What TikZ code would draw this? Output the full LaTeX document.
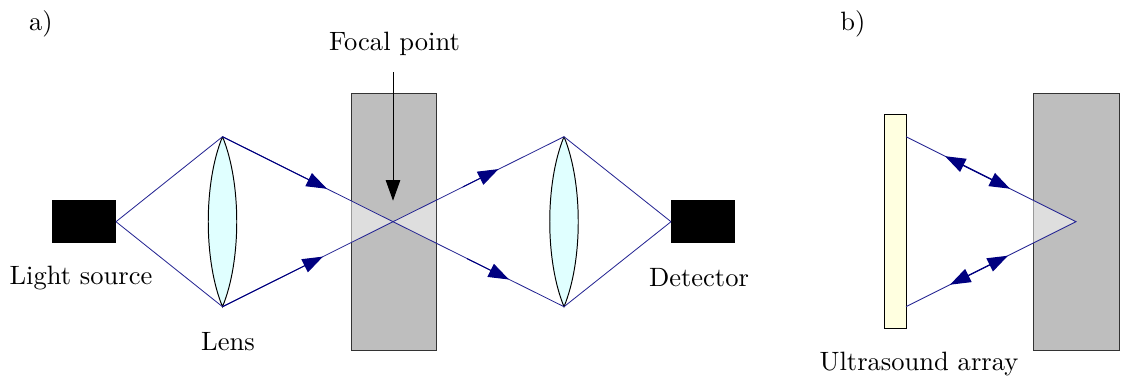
\documentclass[tikz,border=0pt]{standalone}
\usetikzlibrary{arrows.meta}
\definecolor{blockgray}{HTML}{BEBEBE}
\definecolor{lenscyan}{HTML}{E0FFFF}
\definecolor{arrayyellow}{HTML}{FFFFE0}
\definecolor{raynavy}{HTML}{000080}
\tikzset{
  every node/.style={font=\fontsize{9.55}{11}\selectfont},
  block/.style={draw=black!80,fill=blockgray,line width=0.35pt},
  lensbody/.style={draw=black,fill=lenscyan,line width=0.35pt},
  focus/.style={fill=white,fill opacity=0.5},
  ray/.style={draw=raynavy!85,line width=0.3pt},
  rayhead/.style={draw=raynavy,fill=raynavy,line width=0.35pt,-{Triangle[length=7.4pt,width=5.2pt]}},
  raybothhead/.style={draw=raynavy,fill=raynavy,line width=0.45pt,{Triangle[length=7.4pt,width=5.2pt]}-{Triangle[length=7.4pt,width=5.2pt]}},
}
\begin{document}
\begin{tikzpicture}[x=0.36pt,y=-0.36pt]
  \useasboundingbox (0,0) rectangle (1121,379);
  % a) transmission
  \draw[block] (351,93) rectangle (436,350);
  \fill[focus] (351,200.8)--(393,221.7)--(351,242.6)--cycle;
  \fill[focus] (436,200.8)--(393,221.7)--(436,242.6)--cycle;
  \fill[black] (52,200) rectangle (116,243);
  \fill[black] (671,200) rectangle (735,243);
  \coordinate (source) at (116,221.7);
  \coordinate (detector) at (671,221.7);
  \coordinate (focalA) at (393,221.7);
  \coordinate (lensAtop) at (222.5,136.7);
  \coordinate (lensAbot) at (222.5,306.7);
  \coordinate (lensBtop) at (564,136.7);
  \coordinate (lensBbot) at (564,306.7);
  \coordinate (tipA) at (327,188.8);
  \coordinate (tipB) at (323,256.6);
  \coordinate (startC) at (463,186.8);
  \coordinate (tipC) at (498.5,169.1);
  \coordinate (startD) at (467,258.6);
  \coordinate (tipD) at (509,279.5);
  \draw[lensbody] (lensAtop) .. controls +(-19,46) and +(-19,-46) .. (lensAbot)
    .. controls +(19,-46) and +(19,46) .. (lensAtop);
  \draw[lensbody] (lensBtop) .. controls +(-19,46) and +(-19,-46) .. (lensBbot)
    .. controls +(19,-46) and +(19,46) .. (lensBtop);
  \draw[ray] (source)--(lensAtop)--(focalA)--(lensBbot)--(detector);
  \draw[ray] (source)--(lensAbot)--(focalA)--(lensBtop)--(detector);
  \draw[rayhead] (lensAtop)--(tipA);
  \draw[rayhead] (lensAbot)--(tipB);
  \draw[rayhead] (startC)--(tipC);
  \draw[rayhead] (startD)--(tipD);
  \coordinate (focalstart) at (393,72);
  \coordinate (focalend) at (393,200.7);
  \draw[line width=0.35pt,-{Triangle[length=7.4pt,width=5.2pt]}] (focalstart)--(focalend);
  \node (labela) at (41,24) {a)};
  \node (labelfocal) at (394.5,44) {Focal point};
  \node (labelsource) at (81,278) {Light source};
  \node (labellens) at (228,342) {Lens};
  \node (labeldetector) at (699,278) {Detector};
  % b) reflection
  \draw[block] (1033,93) rectangle (1119,350);
  \fill[focus] (1033,200.2)--(1076,221.7)--(1033,243.2)--cycle;
  \draw[draw=black,fill=arrayyellow,line width=0.35pt] (884,114) rectangle (906,328);
  \coordinate (arraytop) at (906,136.7);
  \coordinate (arraybot) at (906,306.7);
  \coordinate (focalB) at (1076,221.7);
  \coordinate (tipE) at (945,156.2);
  \coordinate (tipF) at (1010,188.7);
  \coordinate (tipG) at (950,284.7);
  \coordinate (tipH) at (1008,255.7);
  \draw[ray] (arraytop)--(focalB)--(arraybot);
  \draw[raybothhead] (tipE)--(tipF);
  \draw[raybothhead] (tipG)--(tipH);
  \node (labelb) at (853,24) {b)};
  \node (labelarray) at (919,364) {Ultrasound array};
\end{tikzpicture}
\end{document}
